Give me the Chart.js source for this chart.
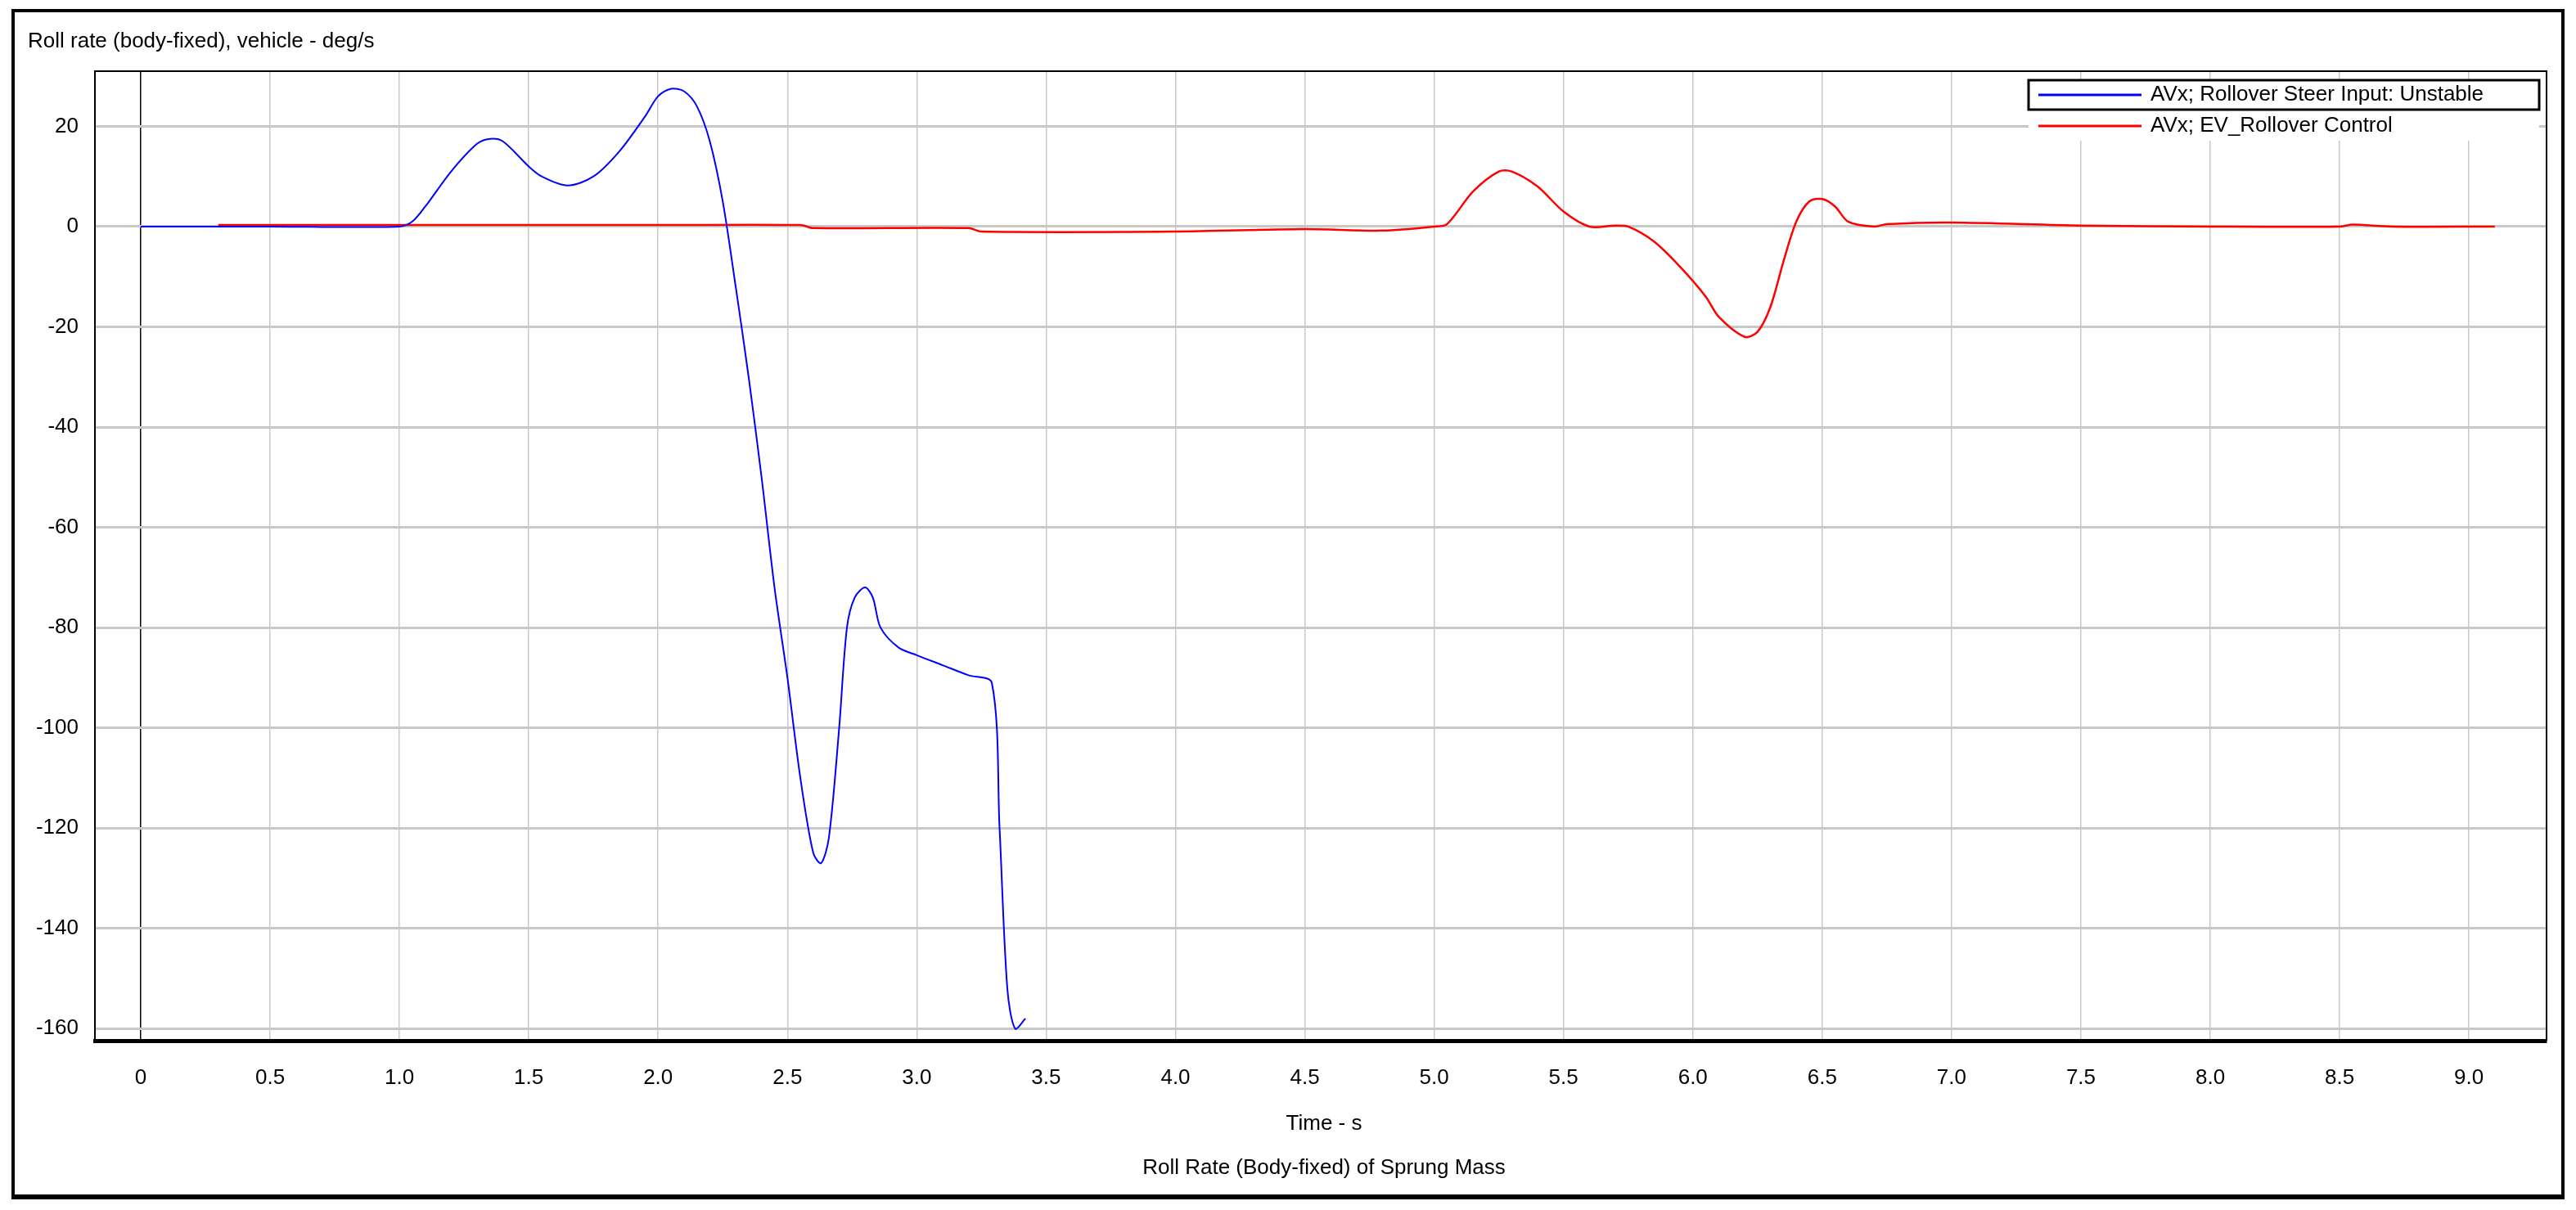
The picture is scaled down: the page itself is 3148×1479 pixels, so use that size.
<!DOCTYPE html>
<html>
<head>
<meta charset="utf-8">
<script src="https://cdn.jsdelivr.net/npm/chart.js@4"></script>
<style>body{margin:0;background:#fff}canvas{display:block}</style>
</head>
<body>
<canvas id="rollChart" width="3148" height="1479"></canvas>
<script>
// Time (s) and roll rate (deg/s)
var unstableTime = [0, 0.5, 1.0, 1.05, 1.1, 1.2, 1.3, 1.35, 1.4, 1.5, 1.55, 1.65, 1.75, 1.85, 1.95, 2.0, 2.05, 2.1, 2.15, 2.2, 2.25, 2.3, 2.35, 2.4, 2.45, 2.5, 2.55, 2.6, 2.63, 2.66, 2.7, 2.73, 2.76, 2.8, 2.83, 2.86, 2.93, 3.0, 3.1, 3.2, 3.29, 3.32, 3.35, 3.38, 3.42];
var unstableRoll = [0, 0, 0, 1, 4, 11, 16.5, 17.5, 17, 12, 10, 8.2, 10, 15, 22, 26, 27.5, 27, 24, 17, 5, -12, -30, -50, -72, -90, -110, -125, -127, -122, -100, -80, -74, -72, -74, -80, -84, -85.5, -87.5, -89.5, -91, -120, -152, -160, -158];
var controlTime = [0.3, 1.0, 2.0, 2.55, 2.6, 3.2, 3.25, 4.0, 4.5, 4.8, 5.0, 5.05, 5.15, 5.25, 5.3, 5.4, 5.5, 5.6, 5.7, 5.75, 5.85, 5.95, 6.05, 6.1, 6.2, 6.25, 6.3, 6.35, 6.4, 6.45, 6.5, 6.55, 6.6, 6.7, 6.75, 7.0, 7.5, 8.0, 8.5, 8.55, 8.7, 9.1];
var controlRoll = [0.3, 0.3, 0.3, 0.3, -0.3, -0.3, -1, -1, -0.5, -0.8, 0, 0.5, 7, 11, 11, 8, 3, 0, 0.2, 0, -3, -8, -14, -18, -22, -21, -16, -7, 1, 5, 5.5, 4, 1, 0, 0.5, 0.8, 0.2, 0, 0, 0.4, 0, 0];
var xTicks = [0, 0.5, 1.0, 1.5, 2.0, 2.5, 3.0, 3.5, 4.0, 4.5, 5.0, 5.5, 6.0, 6.5, 7.0, 7.5, 8.0, 8.5, 9.0];
var yTicks = [20, 0, -20, -40, -60, -80, -100, -120, -140, -160];
var seriesNames = ['AVx; Rollover Steer Input: Unstable', 'AVx; EV_Rollover Control'];

function pts(t, v) { return t.map(function (x, i) { return {x: x, y: v[i]}; }); }

var FONT = '26px "Liberation Sans", Arial, sans-serif';

var decor = {
    id: 'decor',
    beforeDraw: function (chart) {
        var c = chart.ctx;
        c.save();
        c.fillStyle = '#fff';
        c.fillRect(0, 0, chart.width, chart.height);
        c.restore();
    },
    afterDraw: function (chart) {
        var c = chart.ctx, a = chart.chartArea;
        c.save();
        // outer frame
        c.strokeStyle = '#000';
        c.lineWidth = 4;
        c.strokeRect(16, 13, 3116, 1451);
        c.fillStyle = '#000';
        c.fillRect(16, 1460, 3118, 6);
        // plot frame top/right
        c.lineWidth = 2;
        c.beginPath();
        c.moveTo(a.left, a.top); c.lineTo(a.right, a.top); c.lineTo(a.right, a.bottom);
        c.stroke();
        // titles
        c.font = FONT;
        c.fillStyle = '#000';
        c.textBaseline = 'middle';
        c.textAlign = 'left';
        c.fillText('Roll rate (body-fixed), vehicle - deg/s', 34, 51);
        c.textAlign = 'center';
        c.fillText('Time - s', (a.left + a.right) / 2 + 4, 1374);
        c.fillText('Roll Rate (Body-fixed) of Sprung Mass', (a.left + a.right) / 2 + 4, 1428);
        // legend
        var colors = ['#0000ff', '#ff0000'];
        var ys = [116, 154];
        c.fillStyle = '#fff';
        c.fillRect(2479, 98, 624, 74);
        c.lineWidth = 3;
        c.strokeStyle = '#000';
        c.strokeRect(2479, 98, 624, 36);
        c.textAlign = 'left';
        for (var i = 0; i < 2; i++) {
            c.strokeStyle = colors[i];
            c.beginPath(); c.moveTo(2491, ys[i]); c.lineTo(2617, ys[i]); c.stroke();
            c.fillStyle = '#000';
            c.fillText(seriesNames[i], 2628, ys[i]);
        }
        c.restore();
    }
};

var ctx = document.getElementById('rollChart').getContext('2d');
var rollChart = new Chart(ctx, {
    type: 'line',
    data: {
        datasets: [{
            label: seriesNames[0],
            data: pts(unstableTime, unstableRoll),
            borderColor: '#0000ff',
            borderWidth: 2,
            pointRadius: 0,
            tension: 0.3
        }, {
            label: seriesNames[1],
            data: pts(controlTime, controlRoll),
            borderColor: '#ff0000',
            borderWidth: 2.5,
            pointRadius: 0,
            tension: 0.3
        }]
    },
    options: {
        responsive: false,
        animation: false,
        devicePixelRatio: 1,
        layout: { padding: { left: 0, top: 87, right: 36, bottom: 0 } },
        plugins: { legend: { display: false }, tooltip: { enabled: false } },
        scales: {
            x: {
                type: 'linear',
                min: -0.177, max: 9.3,
                afterBuildTicks: function (s) { s.ticks = xTicks.map(function (v) { return {value: v}; }); },
                afterFit: function (s) { s.height = 1479 - 1272; },
                ticks: {
                    color: '#000', font: { family: '"Liberation Sans", Arial, sans-serif', size: 26 },
                    padding: 30, maxRotation: 0, autoSkip: false,
                    callback: function (v) { return v === 0 ? '0' : v.toFixed(1); }
                },
                grid: {
                    color: function (c) { return c.tick && c.tick.value === 0 ? '#000' : '#c8c8c8'; },
                    lineWidth: 1.5, drawTicks: false
                },
                border: { color: '#000', width: 5 }
            },
            y: {
                min: -162.4, max: 31,
                afterBuildTicks: function (s) { s.ticks = yTicks.map(function (v) { return {value: v}; }); },
                afterFit: function (s) { s.width = 116; },
                ticks: {
                    color: '#000', font: { family: '"Liberation Sans", Arial, sans-serif', size: 26 },
                    padding: 20, autoSkip: false
                },
                grid: { color: '#c8c8c8', lineWidth: 3, drawTicks: false },
                border: { color: '#000', width: 2 }
            }
        }
    },
    plugins: [decor]
});
</script>
</body>
</html>
